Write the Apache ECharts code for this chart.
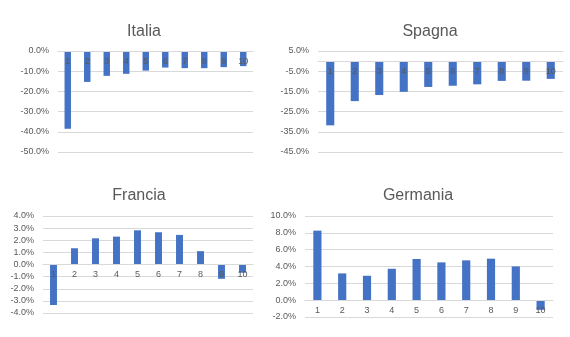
<!DOCTYPE html>
<html><head><meta charset="utf-8">
<script src="https://cdn.jsdelivr.net/npm/echarts@6/dist/echarts.min.js"></script>
<style>html,body{margin:0;padding:0;background:#fff}#c{width:570px;height:337px}</style>
</head><body><div id="c"></div>
<script>
const categories = ['1','2','3','4','5','6','7','8','9','10'];
const titles = ['Italia','Spagna','Francia','Germania'];
const italia = [-38.5,-15.3,-12.3,-11.3,-9.7,-8.2,-8.5,-8.5,-8.0,-7.5];
const spagna = [-31.8,-19.8,-16.8,-15.2,-12.8,-12.2,-11.5,-9.8,-9.7,-8.8];
const francia = [-3.34,1.34,2.16,2.30,2.82,2.66,2.44,1.10,-1.18,-0.68];
const germania = [8.26,3.18,2.90,3.73,4.89,4.49,4.73,4.93,4.01,-1.15];
const yRanges = [[-50,0,10],[-45,5,10],[-4,4,1],[-2,10,2]];

const grids = [
  {left:58, width:195, top:51, height:101},
  {left:318, width:245, top:51, height:101},
  {left:43, width:210, top:216, height:97},
  {left:305, width:248, top:216, height:101}
];
const titlePos = [[139,19],[425,19],[134,183],[413,183]];
const font = 'Liberation Sans, Arial, sans-serif';
const seriesData = [italia, spagna, francia, germania];

const option = {
  animation:false,
  title: titles.map((t,i)=>({text:t,left:titlePos[i][0],top:titlePos[i][1],textAlign:'center',
    textStyle:{color:'#595959',fontSize:16,fontWeight:'normal',fontFamily:font}})),
  grid: grids,
  xAxis: grids.map((g,i)=>{
    const r = yRanges[i];
    const off = -g.height*(0-r[0])/(r[1]-r[0]);
    return {type:'category',gridIndex:i,data:categories,z:5,position:'bottom',offset:off,
    axisLine:{onZero:false,lineStyle:{color:'#d9d9d9'}},axisTick:{show:false},
    axisLabel:{color:'#595959',fontSize:9,fontFamily:font,margin:6}};}),
  yAxis: yRanges.map((r,i)=>({type:'value',gridIndex:i,min:r[0],max:r[1],interval:r[2],
    axisLine:{show:false},axisTick:{show:false},
    splitLine:{lineStyle:{color:'#d9d9d9'}},
    axisLabel:{color:'#595959',fontSize:9,fontFamily:font,margin:9,formatter:v=>v.toFixed(1)+'%'}})),
  series: seriesData.map((d,i)=>({type:'bar',xAxisIndex:i,yAxisIndex:i,data:d,barWidth:'33%',
    itemStyle:{color:'#4472c4'}}))
};
echarts.init(document.getElementById('c'),null,{renderer:'canvas'}).setOption(option);
</script></body></html>
